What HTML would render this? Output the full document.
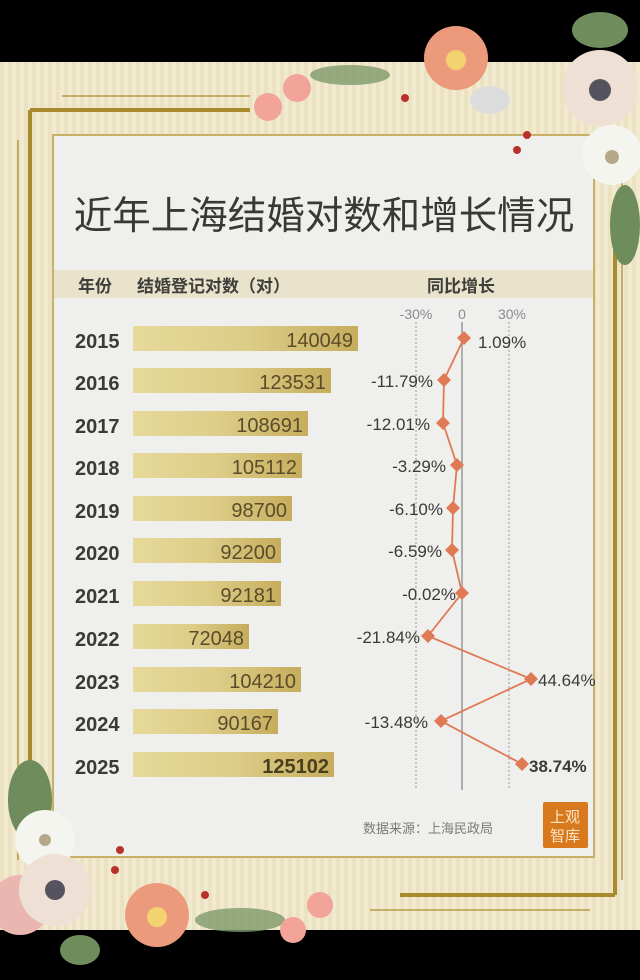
<!DOCTYPE html>
<html><head><meta charset="utf-8"><style>
html,body{margin:0;padding:0;background:#000;}
svg{display:block}
text{font-family:"Liberation Sans","Noto Sans CJK SC",sans-serif;}
</style></head><body>
<svg width="640" height="980" viewBox="0 0 640 980" xmlns="http://www.w3.org/2000/svg">
<defs>
<pattern id="stripe" width="8" height="10" patternUnits="userSpaceOnUse">
<rect width="8" height="10" fill="#f1ead0"/><rect width="4" height="10" fill="#ebe2c2"/>
</pattern>
<linearGradient id="bar" x1="0" x2="1" y1="0" y2="0">
<stop offset="0" stop-color="#e6d99a"/><stop offset="0.5" stop-color="#ddcd88"/><stop offset="1" stop-color="#c6ad5c"/>
</linearGradient>
</defs>
<rect x="0" y="0" width="640" height="980" fill="#000"/>
<rect x="0" y="62" width="640" height="868" fill="url(#stripe)"/>
<path d="M30 110 L250 110 M30 110 L30 850" stroke="#a88b2c" stroke-width="4" fill="none"/>
<path d="M62 96 L250 96 M18 140 L18 860" stroke="#b59a45" stroke-width="1.5" fill="none"/>
<path d="M615 895 L400 895 M615 895 L615 200" stroke="#a88b2c" stroke-width="4" fill="none"/>
<path d="M370 910 L590 910 M622 180 L622 880" stroke="#b59a45" stroke-width="1.5" fill="none"/>
<rect x="53" y="135" width="541" height="722" fill="#efefee" stroke="#c7b068" stroke-width="2"/>
<text x="324" y="229" font-size="38.5" text-anchor="middle" fill="#383934" font-family="'Noto Serif CJK SC','Noto Sans CJK SC',serif">近年上海结婚对数和增长情况</text>
<rect x="54" y="270" width="539" height="28" fill="#e9e3cc"/>
<text x="78" y="292" font-size="17" font-weight="bold" fill="#3e3f3a">年份</text>
<text x="137" y="292" font-size="17" font-weight="bold" fill="#3e3f3a">结婚登记对数（对）</text>
<text x="461" y="292" font-size="17" font-weight="bold" fill="#3e3f3a" text-anchor="middle">同比增长</text>
<text x="416" y="319" font-size="14" fill="#8a8a8a" text-anchor="middle">-30%</text>
<text x="462" y="319" font-size="14" fill="#8a8a8a" text-anchor="middle">0</text>
<text x="512" y="319" font-size="14" fill="#8a8a8a" text-anchor="middle">30%</text>
<line x1="416" y1="322" x2="416" y2="790" stroke="#999" stroke-dasharray="2,2"/>
<line x1="509" y1="322" x2="509" y2="790" stroke="#999" stroke-dasharray="2,2"/>
<line x1="462" y1="322" x2="462" y2="790" stroke="#999" stroke-width="1.5"/>
<g font-size="20" font-weight="bold" fill="#3a3a36">
<text x="75" y="348">2015</text><text x="75" y="390">2016</text><text x="75" y="433">2017</text><text x="75" y="475">2018</text><text x="75" y="518">2019</text><text x="75" y="560">2020</text><text x="75" y="603">2021</text><text x="75" y="646">2022</text><text x="75" y="689">2023</text><text x="75" y="731">2024</text><text x="75" y="774">2025</text>
</g>
<g fill="url(#bar)">
<rect x="133" y="326" width="225" height="25"/><rect x="133" y="368" width="198" height="25"/><rect x="133" y="411" width="175" height="25"/><rect x="133" y="453" width="169" height="25"/><rect x="133" y="496" width="159" height="25"/><rect x="133" y="538" width="148" height="25"/><rect x="133" y="581" width="148" height="25"/><rect x="133" y="624" width="116" height="25"/><rect x="133" y="667" width="168" height="25"/><rect x="133" y="709" width="145" height="25"/><rect x="133" y="752" width="201" height="25"/>
</g>
<g font-size="20" fill="#5a4c2a" text-anchor="end">
<text x="353" y="347">140049</text><text x="326" y="389">123531</text><text x="303" y="432">108691</text><text x="297" y="474">105112</text><text x="287" y="517">98700</text><text x="276" y="559">92200</text><text x="276" y="602">92181</text><text x="244" y="645">72048</text><text x="296" y="688">104210</text><text x="273" y="730">90167</text><text x="329" y="773" font-weight="bold" fill="#4a3e20">125102</text>
</g>
<polyline fill="none" stroke="#e07a55" stroke-width="1.8" points="464,338 444,380 443,423 457,465 453,508 452,550 462,593 428,636 531,679 441,721 522,764"/>
<g fill="#e07a55">
<path d="M464 331l7 7-7 7-7-7z"/><path d="M444 373l7 7-7 7-7-7z"/><path d="M443 416l7 7-7 7-7-7z"/><path d="M457 458l7 7-7 7-7-7z"/><path d="M453 501l7 7-7 7-7-7z"/><path d="M452 543l7 7-7 7-7-7z"/><path d="M462 586l7 7-7 7-7-7z"/><path d="M428 629l7 7-7 7-7-7z"/><path d="M531 672l7 7-7 7-7-7z"/><path d="M441 714l7 7-7 7-7-7z"/><path d="M522 757l7 7-7 7-7-7z"/>
</g>
<g font-size="17" fill="#3a3a36">
<text x="478" y="348">1.09%</text>
<text x="433" y="387" text-anchor="end">-11.79%</text>
<text x="430" y="430" text-anchor="end">-12.01%</text>
<text x="446" y="472" text-anchor="end">-3.29%</text>
<text x="443" y="515" text-anchor="end">-6.10%</text>
<text x="442" y="557" text-anchor="end">-6.59%</text>
<text x="456" y="600" text-anchor="end">-0.02%</text>
<text x="420" y="643" text-anchor="end">-21.84%</text>
<text x="538" y="686">44.64%</text>
<text x="428" y="728" text-anchor="end">-13.48%</text>
<text x="529" y="772" font-weight="bold">38.74%</text>
</g>
<text x="363" y="833" font-size="13" fill="#7a7a72">数据来源：上海民政局</text>
<rect x="543" y="802" width="45" height="46" fill="#d9791e" rx="2"/>
<text x="565" y="822" font-size="15" fill="#fbe6c8" text-anchor="middle">上观</text>
<text x="565" y="841" font-size="15" fill="#fbe6c8" text-anchor="middle">智库</text>
<g>
<ellipse cx="350" cy="75" rx="40" ry="10" fill="#7e9a6a" opacity="0.8"/>
<circle cx="456" cy="58" r="32" fill="#ec9a7c"/><circle cx="456" cy="60" r="10" fill="#f3d270"/>
<circle cx="297" cy="88" r="14" fill="#f2a49a"/><circle cx="268" cy="107" r="14" fill="#f2a49a"/>
<circle cx="600" cy="88" r="38" fill="#efe0d6"/><circle cx="600" cy="90" r="11" fill="#55545e"/>
<circle cx="612" cy="155" r="30" fill="#f5f5f0"/><circle cx="612" cy="157" r="7" fill="#b5a888"/>
<ellipse cx="600" cy="30" rx="28" ry="18" fill="#6e8c5c"/>
<ellipse cx="625" cy="225" rx="15" ry="40" fill="#6e8c5c"/>
<ellipse cx="490" cy="100" rx="20" ry="14" fill="#dcdcdc"/>
<circle cx="527" cy="135" r="4" fill="#b8312c"/><circle cx="517" cy="150" r="4" fill="#b8312c"/><circle cx="405" cy="98" r="4" fill="#b8312c"/>
</g>
<g>
<ellipse cx="30" cy="800" rx="22" ry="40" fill="#6e8c5c"/>
<circle cx="45" cy="840" r="30" fill="#f5f5f0"/><circle cx="45" cy="840" r="6" fill="#b5a888"/>
<circle cx="20" cy="905" r="30" fill="#ecb6b0"/>
<circle cx="55" cy="890" r="36" fill="#efe0d6"/><circle cx="55" cy="890" r="10" fill="#55545e"/>
<ellipse cx="80" cy="950" rx="20" ry="15" fill="#6e8c5c"/>
<circle cx="157" cy="915" r="32" fill="#ec9a7c"/><circle cx="157" cy="917" r="10" fill="#f3d270"/>
<ellipse cx="240" cy="920" rx="45" ry="12" fill="#7e9a6a" opacity="0.8"/>
<circle cx="293" cy="930" r="13" fill="#f2a49a"/><circle cx="320" cy="905" r="13" fill="#f2a49a"/>
<circle cx="115" cy="870" r="4" fill="#b8312c"/><circle cx="120" cy="850" r="4" fill="#b8312c"/><circle cx="205" cy="895" r="4" fill="#b8312c"/>
</g>
</svg>
</body></html>
